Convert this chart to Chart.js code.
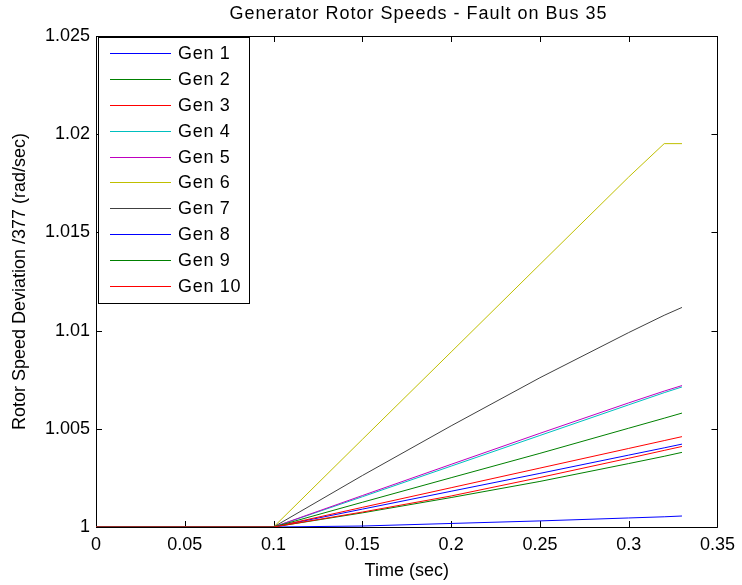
<!DOCTYPE html>
<html>
<head>
<meta charset="utf-8">
<script src="https://cdn.jsdelivr.net/npm/chart.js@4/dist/chart.umd.min.js"></script>
<style>
  html, body { margin: 0; padding: 0; background: #ffffff; }
  #wrap { width: 742px; height: 585px; }
</style>
</head>
<body>
<div id="wrap"><canvas id="c" width="742" height="585"></canvas></div>
<script>
// ---- data ----
const chartTitle = "Generator Rotor Speeds - Fault on Bus 35";
const xAxisTitle = "Time (sec)";
const yAxisTitle = "Rotor Speed Deviation /377 (rad/sec)";

const times = [0, 0.1, 0.15, 0.2, 0.25, 0.3, 0.32, 0.33];

const gen1  = [1, 1, 1.00091, 1.00182, 1.00273, 1.00366, 1.00403, 1.00422];
const gen2  = [1, 1, 1.00072, 1.00150, 1.00232, 1.00323, 1.00360, 1.00380];
const gen3  = [1, 1, 1.00100, 1.00200, 1.00300, 1.00400, 1.00440, 1.00460];
const gen4  = [1, 1, 1.00154, 1.00310, 1.00466, 1.00622, 1.00684, 1.00713];
const gen5  = [1, 1, 1.00160, 1.00319, 1.00477, 1.00632, 1.00692, 1.00720];
const gen6  = [1, 1, 1.00446, 1.00891, 1.01337, 1.01782, 1.01952, 1.01952];
const gen7  = [1, 1, 1.00262, 1.00515, 1.00760, 1.00990, 1.01078, 1.01118];
const gen8  = [1, 1, 1.00005, 1.00018, 1.00031, 1.00046, 1.00052, 1.00056];
const gen9  = [1, 1, 1.00126, 1.00251, 1.00375, 1.00503, 1.00554, 1.00580];
const gen10 = [1, 1, 1.00076, 1.00158, 1.00252, 1.00350, 1.00390, 1.00410];

const seriesNames = ["Gen 1","Gen 2","Gen 3","Gen 4","Gen 5","Gen 6","Gen 7","Gen 8","Gen 9","Gen 10"];
const seriesValues = [gen1, gen2, gen3, gen4, gen5, gen6, gen7, gen8, gen9, gen10];
const seriesColors = ["#0000FF","#008000","#FF0000","#00BFBF","#BF00BF","#BFBF00","#404040","#0000FF","#008000","#FF0000"];

const xTicks = [0, 0.05, 0.1, 0.15, 0.2, 0.25, 0.3, 0.35];
const xTickLabels = ["0","0.05","0.1","0.15","0.2","0.25","0.3","0.35"];
const yTicks = [1, 1.005, 1.01, 1.015, 1.02, 1.025];
const yTickLabels = ["1","1.005","1.01","1.015","1.02","1.025"];

// ---- chart ----
const FONT = "'Liberation Sans', Arial, Helvetica, sans-serif";

const datasets = seriesNames.map((name, i) => ({
  label: name,
  data: times.map((t, k) => ({ x: t, y: seriesValues[i][k] })),
  borderColor: seriesColors[i],
  backgroundColor: seriesColors[i],
  borderWidth: 1,
  pointRadius: 0,
  tension: 0,
  fill: false,
  order: seriesNames.length - 1 - i
}));

const framePlugin = {
  id: 'frame',
  beforeDatasetsDraw(chart) {
    const ctx = chart.ctx;
    const a = chart.chartArea;
    const xs = chart.scales.x, ys = chart.scales.y;
    ctx.save();
    ctx.strokeStyle = '#000';
    ctx.lineWidth = 1;
    ctx.beginPath();
    ctx.rect(Math.round(a.left) + 0.5, Math.round(a.top) + 0.5,
             Math.round(a.right - a.left), Math.round(a.bottom - a.top));
    ctx.stroke();
    const tl = 6;
    ctx.beginPath();
    xTicks.forEach(v => {
      const px = Math.round(xs.getPixelForValue(v)) + 0.5;
      ctx.moveTo(px, a.bottom); ctx.lineTo(px, a.bottom - tl);
      ctx.moveTo(px, a.top); ctx.lineTo(px, a.top + tl);
    });
    yTicks.forEach(v => {
      const py = Math.round(ys.getPixelForValue(v)) + 0.5;
      ctx.moveTo(a.left, py); ctx.lineTo(a.left + tl, py);
      ctx.moveTo(a.right, py); ctx.lineTo(a.right - tl, py);
    });
    ctx.stroke();
    ctx.restore();
  },
  afterDraw(chart) {
    const ctx = chart.ctx;
    ctx.save();
    // title
    ctx.fillStyle = '#000';
    ctx.font = "18px " + FONT;
    ctx.textAlign = 'center';
    ctx.textBaseline = 'middle';
    try { ctx.letterSpacing = '1px'; } catch (e) {}
    ctx.fillText(chartTitle, 418.5, 14);
    // legend box
    const lx = 98.5, ly = 37.5, lw = 151, lh = 266;
    try { ctx.letterSpacing = '0px'; } catch (e) {}
    ctx.fillStyle = '#fff';
    ctx.fillRect(lx, ly, lw, lh);
    ctx.strokeStyle = '#000';
    ctx.lineWidth = 1;
    ctx.strokeRect(lx, ly, lw, lh);
    ctx.textAlign = 'left';
    ctx.font = "18px " + FONT;
    try { ctx.letterSpacing = '0.7px'; } catch (e) {}
    chart.data.datasets.forEach((ds, i) => {
      const y = Math.round(53.3 + 25.8 * i) + 0.5;
      ctx.strokeStyle = ds.borderColor;
      ctx.beginPath();
      ctx.moveTo(110, y); ctx.lineTo(171, y);
      ctx.stroke();
      ctx.fillStyle = '#000';
      ctx.fillText(ds.label, 178, y + 1);
    });
    ctx.restore();
  }
};

new Chart(document.getElementById('c'), {
  type: 'line',
  data: { datasets },
  options: {
    responsive: false,
    animation: false,
    devicePixelRatio: 1,
    layout: { padding: { top: 36, right: 21, left: 0, bottom: 0 } },
    plugins: {
      legend: { display: false },
      title: { display: false },
      tooltip: { enabled: false }
    },
    scales: {
      x: {
        type: 'linear',
        min: 0, max: 0.35,
        afterFit(scale) { scale.height = 58; },
        afterBuildTicks(scale) { scale.ticks = xTicks.map(v => ({ value: v })); },
        grid: { display: false, drawTicks: false },
        border: { display: false },
        ticks: {
          padding: 7,
          color: '#000',
          font: { family: FONT, size: 18 },
          maxRotation: 0,
          autoSkip: false,
          callback: (v) => { const i = xTicks.findIndex(t => Math.abs(t - v) < 1e-9); return i >= 0 ? xTickLabels[i] : ''; }
        },
        title: {
          display: true, text: xAxisTitle, color: '#000',
          font: { family: FONT, size: 18 },
          padding: { top: 0, bottom: 3 }
        }
      },
      y: {
        type: 'linear',
        min: 1, max: 1.025,
        afterFit(scale) { scale.width = 96; },
        afterBuildTicks(scale) { scale.ticks = yTicks.map(v => ({ value: v })); },
        grid: { display: false, drawTicks: false },
        border: { display: false },
        ticks: {
          padding: 6,
          color: '#000',
          font: { family: FONT, size: 18 },
          autoSkip: false,
          callback: (v) => { const i = yTicks.findIndex(t => Math.abs(t - v) < 1e-9); return i >= 0 ? yTickLabels[i] : ''; }
        },
        title: {
          display: true, text: yAxisTitle, color: '#000',
          font: { family: FONT, size: 18 },
          padding: { top: 9, bottom: 0 }
        }
      }
    }
  },
  plugins: [framePlugin]
});
</script>
</body>
</html>
